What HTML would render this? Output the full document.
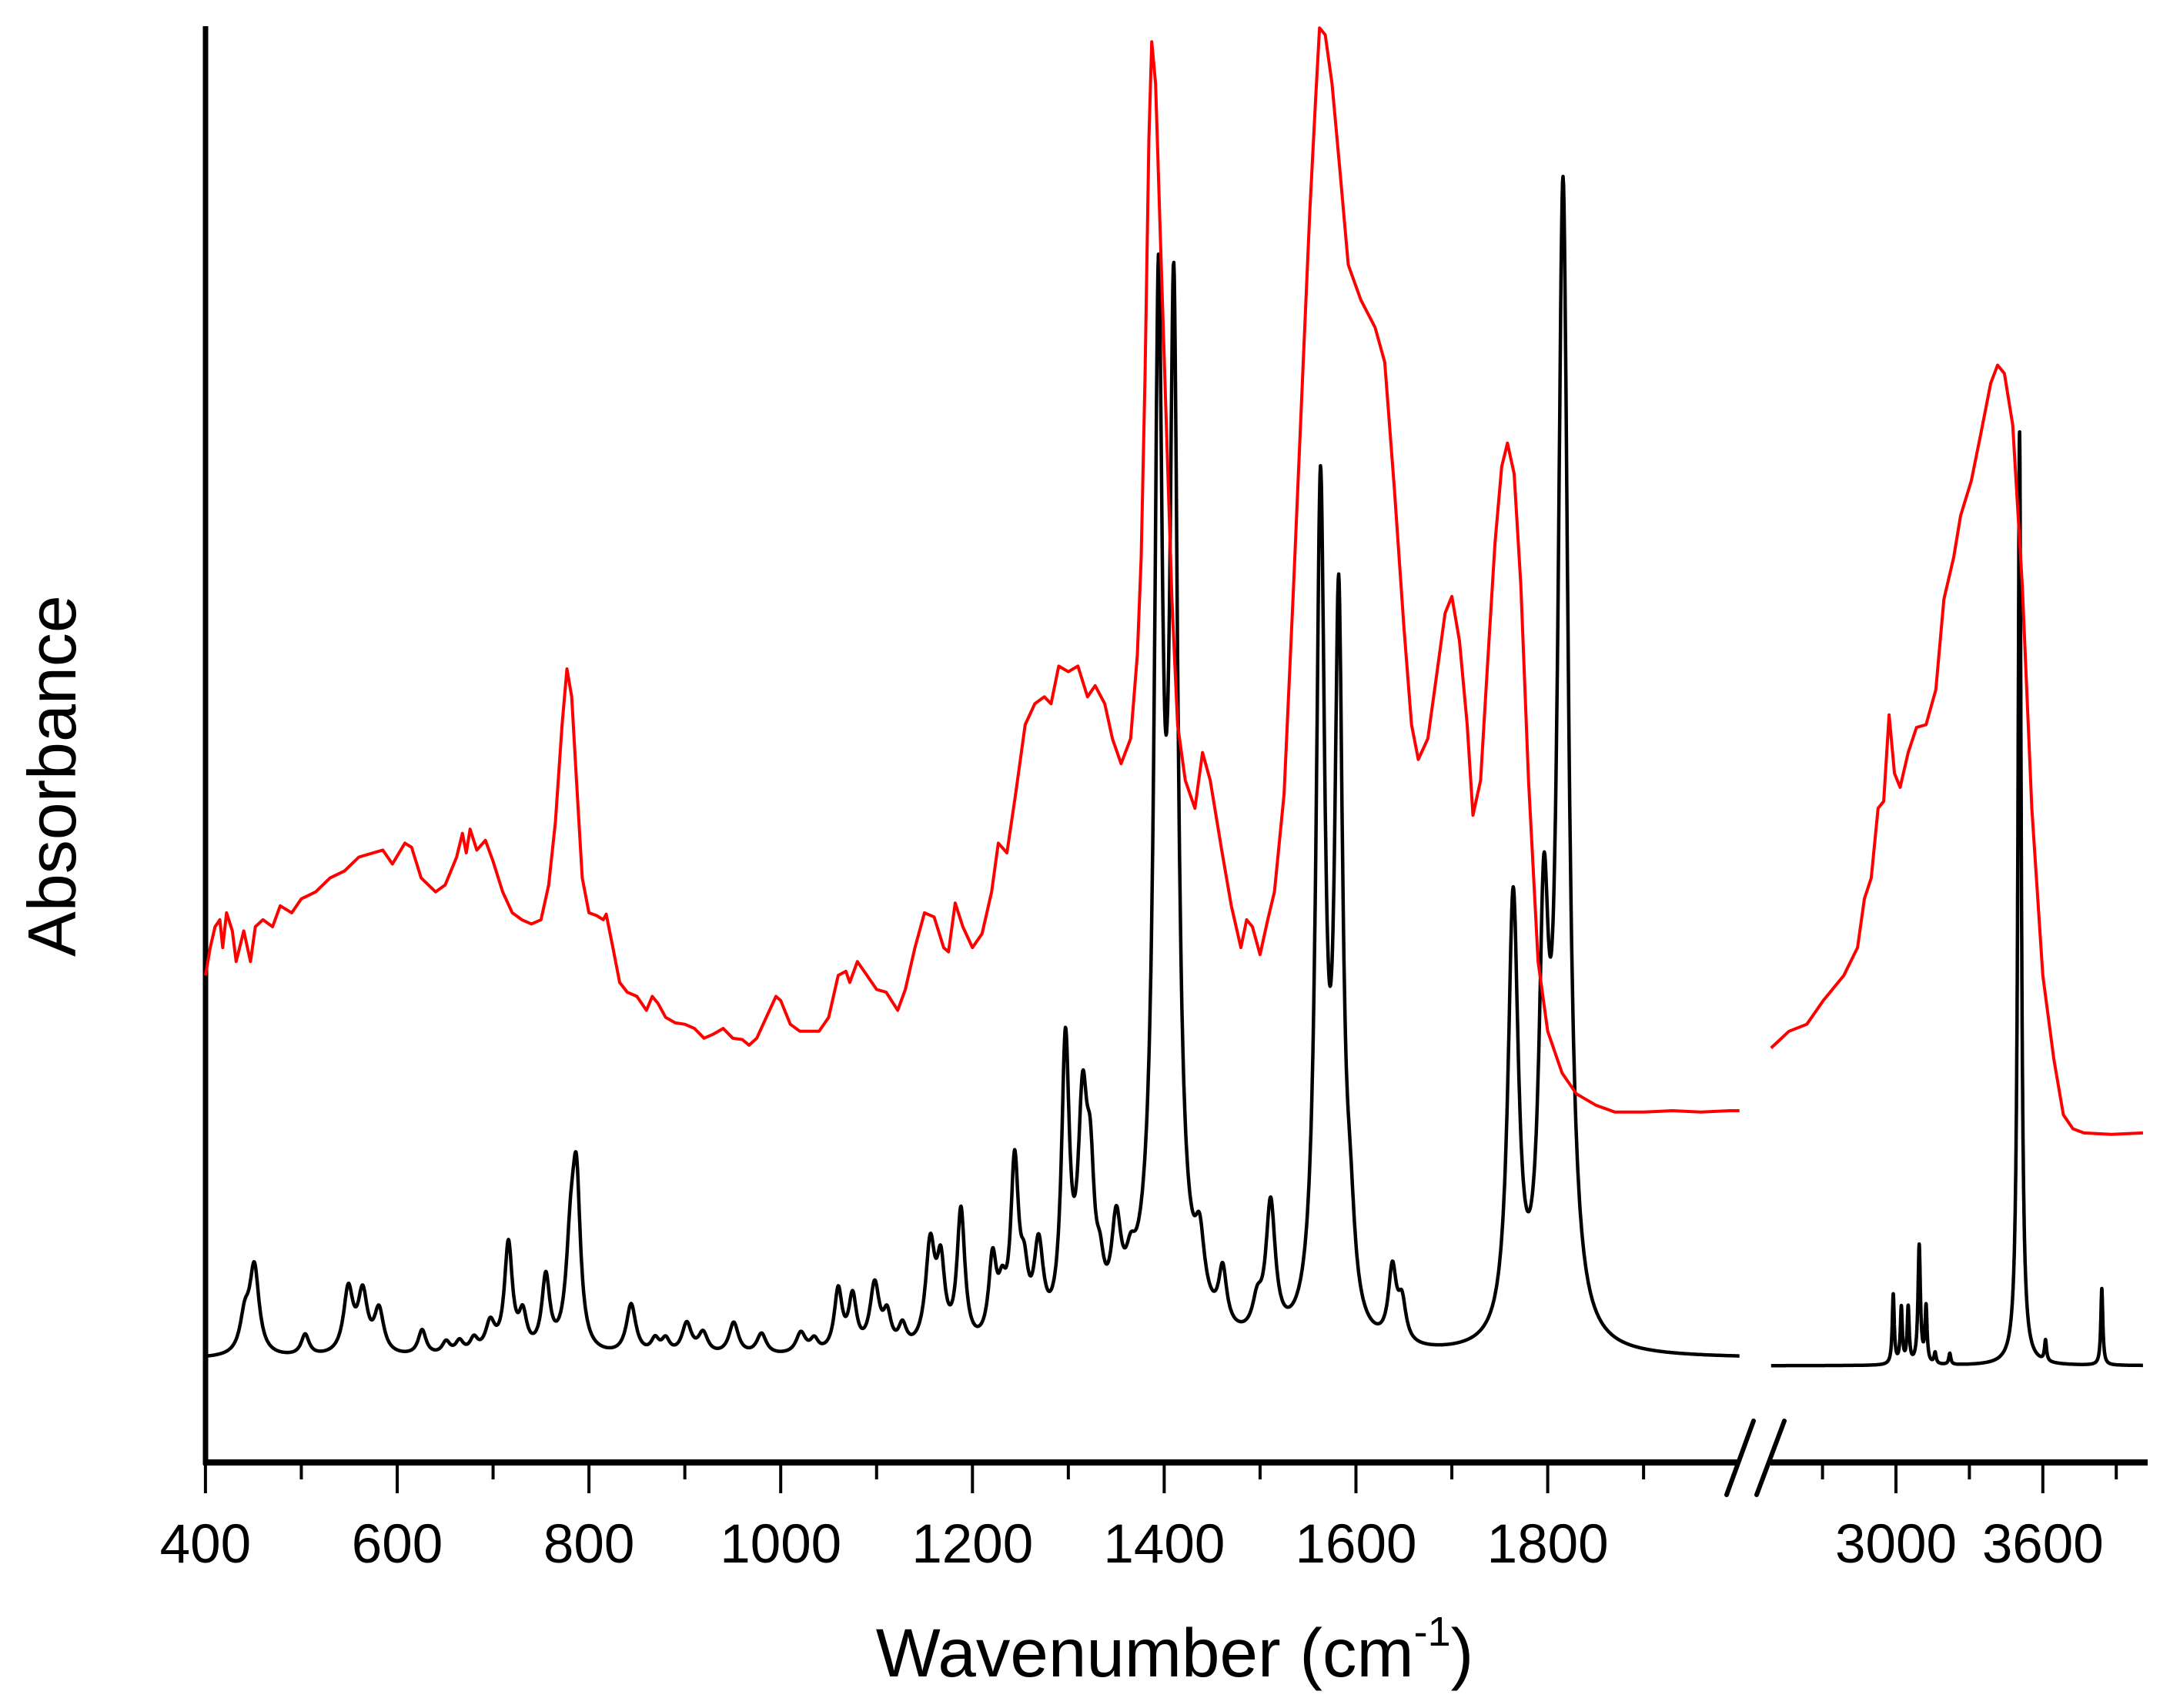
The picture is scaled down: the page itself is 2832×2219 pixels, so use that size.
<!DOCTYPE html>
<html><head><meta charset="utf-8"><style>
html,body{margin:0;padding:0;background:#fff;}
svg{display:block;}
text{font-family:"Liberation Sans",Arial,sans-serif;fill:#000;}
</style></head><body>
<svg id="chart" width="2832" height="2219" viewBox="0 0 2832 2219" xmlns="http://www.w3.org/2000/svg">
<g id="axes"></g>
<g id="series"></g>
<text x="0" y="0" font-size="88" text-anchor="middle" transform="translate(98,1008) rotate(-90)">Absorbance</text>
<text x="1526" y="2178" font-size="89" text-anchor="middle">Wavenumber (cm<tspan font-size="54" dy="-40">-1</tspan><tspan dy="40">)</tspan></text>
</svg>
<script>
// ---- data ----
const leftTicks = [400,500,600,700,800,900,1000,1100,1200,1300,1400,1500,1600,1700,1800,1900];
const leftTickLabels = ["400","","600","","800","","1000","","1200","","1400","","1600","","1800",""];
const rightTicks = [2700,3000,3300,3600,3900];
const rightTickLabels = ["","3000","","3600",""];

// experimental (red) spectrum, left segment: wavenumber / absorbance
const redLeftW = [400,405,410,415,418,422,428,432,440,447,452,460,470,478,490,500,515,530,545,560,575,585,595,608,615,625,640,650,662,668,672,676,683,692,700,710,720,730,740,750,758,765,772,777,782,787,793,800,808,815,818,825,832,840,850,860,866,872,880,890,900,910,920,930,940,950,960,967,975,985,995,1000,1010,1020,1040,1050,1060,1068,1072,1080,1090,1100,1110,1122,1130,1140,1150,1160,1170,1175,1182,1190,1200,1210,1220,1227,1236,1245,1255,1265,1275,1282,1290,1300,1310,1320,1328,1338,1346,1355,1365,1372,1376,1380,1384,1387,1391,1396,1402,1408,1414,1422,1432,1440,1448,1460,1470,1480,1486,1492,1500,1508,1515,1525,1535,1545,1552,1558,1562,1568,1575,1583,1592,1605,1620,1630,1640,1650,1658,1665,1675,1685,1693,1700,1708,1716,1722,1730,1737,1745,1752,1758,1765,1772,1780,1790,1800,1815,1830,1850,1870,1900,1930,1960,1990,2000];
const redLeftA = [.350,.370,.385,.390,.370,.395,.382,.360,.382,.360,.385,.390,.385,.400,.395,.405,.410,.420,.425,.435,.438,.440,.430,.445,.442,.420,.410,.415,.435,.452,.438,.455,.440,.447,.432,.410,.395,.390,.387,.390,.415,.460,.530,.570,.550,.490,.420,.395,.393,.390,.394,.370,.345,.338,.335,.325,.335,.330,.320,.316,.315,.312,.305,.308,.312,.305,.304,.300,.305,.320,.335,.332,.315,.310,.310,.320,.350,.353,.345,.360,.350,.340,.338,.325,.340,.370,.395,.392,.370,.367,.402,.385,.370,.380,.410,.445,.438,.480,.530,.545,.550,.545,.572,.568,.572,.550,.558,.545,.520,.502,.520,.580,.650,.780,.950,1.020,.990,.880,.750,.620,.530,.490,.470,.510,.490,.440,.400,.370,.390,.385,.365,.390,.410,.480,.630,.790,.900,.980,1.030,1.025,.990,.930,.860,.835,.815,.790,.700,.600,.530,.505,.520,.570,.610,.622,.590,.530,.465,.490,.570,.660,.715,.732,.710,.630,.490,.360,.310,.280,.265,.257,.252,.252,.253,.252,.253,.253];
// experimental (red) spectrum, right segment
const redRightW = [2490,2563,2636,2703,2787,2843,2871,2899,2927,2950,2972,2994,3017,3050,3084,3123,3163,3196,3236,3264,3308,3348,3387,3415,3443,3477,3516,3555,3600,3645,3684,3723,3768,3880,4009];
const redRightA = [.298,.310,.315,.332,.350,.370,.405,.420,.470,.475,.537,.495,.485,.510,.528,.530,.555,.620,.650,.680,.705,.740,.775,.788,.782,.745,.630,.470,.350,.290,.250,.240,.237,.236,.237];

// calculated (black) spectrum: peak list
const blackLeftBase = 0.075;
const blackLeftPos = [441,451,504,549,564,581,626,651,665,680,697,716,731,755,781,787,844,869,880,902,919,951,980,1021,1035,1060,1075,1098,1111,1127,1156,1167,1188,1221,1231,1244,1254,1269,1297,1315,1323,1333,1350,1365,1400,1394,1410,1437,1461,1497,1511,1563,1582,1594,1638,1648,1764,1796,1816];
const blackLeftH = [.025,.062,.015,.046,.042,.031,.018,.009,.009,.010,.021,.078,.025,.053,.070,.108,.036,.010,.010,.022,.015,.023,.015,.015,.009,.044,.038,.047,.023,.016,.073,.054,.097,.058,.028,.124,.037,.064,.205,.150,.085,.028,.066,.023,.07,.66,.66,.045,.040,.021,.095,.60,.50,.056,.052,.028,.315,.27,.82];
const blackLeftW = [6,6,5,6,6,6,5,5,5,5,6,5,5,5,6,5,6,5,5,6,6,6,6,6,5,5,5,6,5,5,6,5,5,5,5,5,5,6,5,6,5,5,6,6,25,5,5,6,5,6,6,5.5,5,6,5,5,6.5,6,6.5];
const blackRightBase = 0.07;
const blackRightPos = [2989,3022,3050,3095,3123,3160,3220,3505,3611,3841];
const blackRightH = [.050,.040,.040,.085,.040,.008,.008,.670,.015,.055];
const blackRightW = [5,5,5,6,5,5,5,8,5,5];

// ---- scales ----
const SVGNS = "http://www.w3.org/2000/svg";
function xL(w){ return 266.9 + (w-400)*1.2455; }
function xR(w){ return 2463 + (w-3000)*0.318; }
function yA(a){ return (1050 - a*1000)*1.8105; }
const AXIS_Y = 1900;

const axes = document.getElementById('axes');
const series = document.getElementById('series');
function mk(tag, attrs, parent){
  const e = document.createElementNS(SVGNS, tag);
  for (const k in attrs) e.setAttribute(k, attrs[k]);
  parent.appendChild(e);
  return e;
}

let yAxis = mk('line', {x1:267,y1:34,x2:267,y2:AXIS_Y+3,stroke:'#000','stroke-width':7}, axes);


let xa1 = mk('line', {x1:264,y1:AXIS_Y,x2:2258,y2:AXIS_Y,stroke:'#000','stroke-width':8}, axes);


let xa2 = mk('line', {x1:2300,y1:AXIS_Y,x2:2790,y2:AXIS_Y,stroke:'#000','stroke-width':8}, axes);


let b1 = mk('line', {x1:2243,y1:1942,x2:2278,y2:1846,stroke:'#000','stroke-width':6,'stroke-linecap':'round'}, axes);


let b2 = mk('line', {x1:2282,y1:1942,x2:2318,y2:1846,stroke:'#000','stroke-width':6,'stroke-linecap':'round'}, axes);



function drawTicks(ticks, labels, xf){
  ticks.forEach((t,i)=>{
    const x = xf(t);
    const major = labels[i] !== "";
    const tk = mk('line', {x1:x,y1:AXIS_Y,x2:x,y2:AXIS_Y+(major?40:22),stroke:'#000','stroke-width':4}, axes);
    
    
    if (major){
      const tx = mk('text', {x:x,y:2030,'font-size':71,'text-anchor':'middle'}, axes);
      tx.textContent = labels[i];
      
      
    }
  });
}
drawTicks(leftTicks, leftTickLabels, xL);
drawTicks(rightTicks, rightTickLabels, xR);

function lorentzSum(w, pos, h, wid, base){
  let s = base;
  for (let i=0;i<pos.length;i++){ const d=(w-pos[i])/wid[i]; s += h[i]/(1+d*d); }
  return s;
}
function blackPath(w0, w1, pos, h, wid, base, xf){
  let d = '';
  for (let w=w0; w<=w1; w+=0.5){
    const y = yA(lorentzSum(w,pos,h,wid,base));
    d += (d?'L':'M') + xf(w).toFixed(1) + ',' + y.toFixed(1);
  }
  return d;
}
let bl = mk('path', {d:blackPath(400,2000,blackLeftPos,blackLeftH,blackLeftW,blackLeftBase,xL),fill:'none',stroke:'#000','stroke-width':4.5,'stroke-linejoin':'round'}, series);


let br = mk('path', {d:blackPath(2490,4009,blackRightPos,blackRightH,blackRightW,blackRightBase,xR),fill:'none',stroke:'#000','stroke-width':4.5,'stroke-linejoin':'round'}, series);



function linePath(ws, as, xf){
  return ws.map((w,i)=> (i?'L':'M') + xf(w).toFixed(1) + ',' + yA(as[i]).toFixed(1)).join('');
}
let rl = mk('path', {d:linePath(redLeftW,redLeftA,xL),fill:'none',stroke:'#ff0000','stroke-width':4,'stroke-linejoin':'round'}, series);


let rr = mk('path', {d:linePath(redRightW,redRightA,xR),fill:'none',stroke:'#ff0000','stroke-width':4,'stroke-linejoin':'round'}, series);


</script>
</body></html>
